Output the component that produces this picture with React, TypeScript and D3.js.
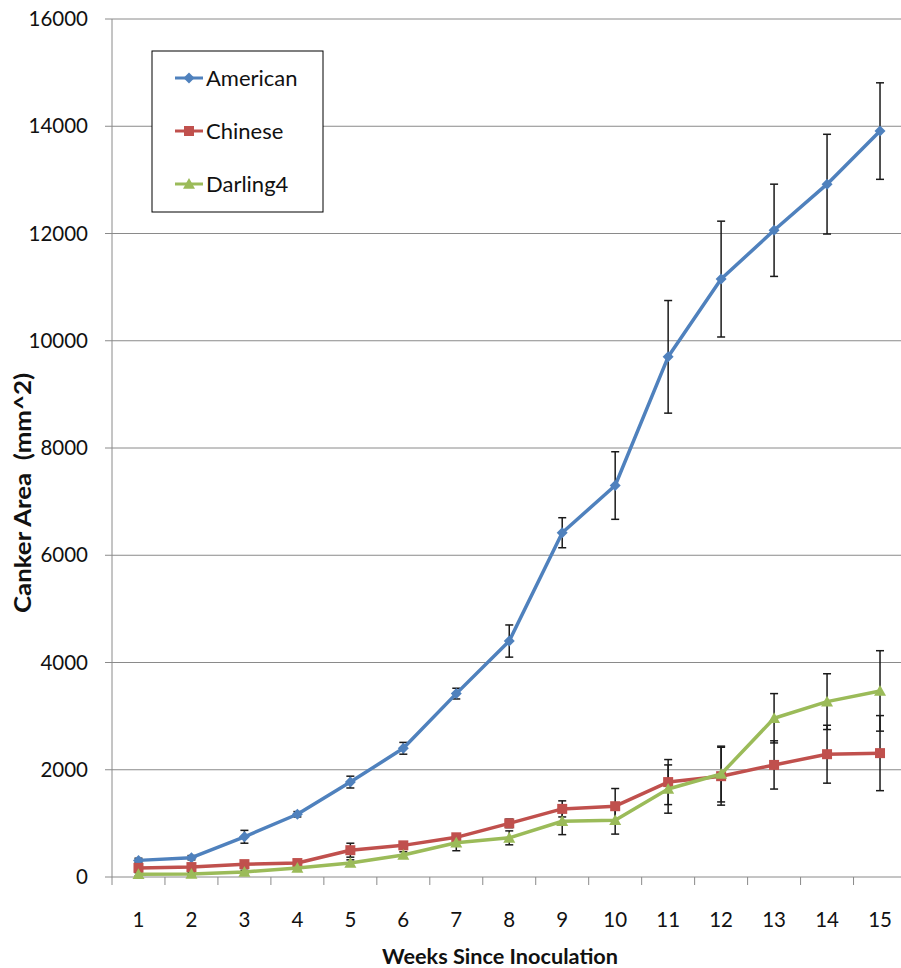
import React from "react";
import * as d3 from "d3";

const weeks = ["1", "2", "3", "4", "5", "6", "7", "8", "9", "10", "11", "12", "13", "14", "15"];
const yTicks = [0, 2000, 4000, 6000, 8000, 10000, 12000, 14000, 16000];

const americanValues = [310, 360, 750, 1170, 1770, 2400, 3420, 4400, 6420, 7300, 9700, 11150, 12060, 12920, 13910];
const americanErr = [40, 40, 120, 50, 110, 110, 100, 300, 280, 630, 1050, 1080, 860, 930, 900];

const chineseValues = [170, 185, 240, 260, 500, 590, 740, 1000, 1270, 1320, 1770, 1880, 2090, 2290, 2310];
const chineseErr = [40, 40, 40, 40, 130, 60, 60, 80, 150, 330, 420, 540, 450, 540, 700];

const darlingValues = [50, 55, 95, 170, 260, 410, 640, 730, 1040, 1060, 1640, 1920, 2960, 3270, 3470];
const darlingErr = [30, 30, 30, 40, 60, 60, 150, 130, 250, 260, 450, 520, 460, 520, 750];

const seriesNames = ["American", "Chinese", "Darling4"];

const series = [
  { name: seriesNames[0], values: americanValues, err: americanErr, color: "#4F81BD", marker: "diamond" },
  { name: seriesNames[1], values: chineseValues, err: chineseErr, color: "#C0504D", marker: "square" },
  { name: seriesNames[2], values: darlingValues, err: darlingErr, color: "#9BBB59", marker: "triangle" },
];

const W = 901;
const H = 968;
const left = 112;
const right = 906.5;
const top = 19;
const bottom = 877;
const FONT = "Lato, 'Open Sans', sans-serif";

function Marker({ type, x, y, color }: { type: string; x: number; y: number; color: string }) {
  if (type === "diamond") {
    const s = 5.5;
    return <path d={`M${x},${y - s}L${x + s},${y}L${x},${y + s}L${x - s},${y}Z`} fill={color} />;
  }
  if (type === "square") {
    const s = 5;
    return <rect x={x - s} y={y - s} width={2 * s} height={2 * s} fill={color} />;
  }
  const s = 6;
  return <path d={`M${x},${y - s}L${x + s},${y + s * 0.8}L${x - s},${y + s * 0.8}Z`} fill={color} />;
}

export default function App() {
  const x = d3.scaleBand<string>().domain(weeks).range([left, right]);
  const y = d3.scaleLinear().domain([0, 16000]).range([bottom, top]);
  const cx = (w: string) => (x(w) as number) + x.bandwidth() / 2;
  const line = d3
    .line<number>()
    .x((_, i) => cx(weeks[i]))
    .y((d) => y(d));

  const boundaries = weeks.map((w) => x(w) as number);

  return (
    <svg
      width={W}
      height={H}
      style={{ position: "absolute", left: 0, top: 0, background: "#fff" }}
      fontFamily={FONT}
    >
      <rect x={0} y={0} width={W} height={H} fill="#fff" />
      {/* gridlines */}
      {yTicks.map((t) => (
        <g key={t}>
          {t > 0 && <line x1={left} x2={W} y1={y(t)} y2={y(t)} stroke="#8a8a8a" strokeWidth={1} />}
          <line x1={left - 7} x2={left} y1={y(t)} y2={y(t)} stroke="#8a8a8a" strokeWidth={1} />
          <text x={88} y={y(t)} dy="0.35em" textAnchor="end" fontSize={20.5} fill="#111">
            {t}
          </text>
        </g>
      ))}
      {/* axes */}
      <line x1={left} x2={left} y1={top} y2={bottom} stroke="#8a8a8a" strokeWidth={1} />
      <line x1={left} x2={W} y1={bottom} y2={bottom} stroke="#8a8a8a" strokeWidth={1} />
      {boundaries.map((b, i) => (
        <line key={i} x1={b} x2={b} y1={bottom} y2={bottom + 8} stroke="#8a8a8a" strokeWidth={1} />
      ))}
      {weeks.map((w) => (
        <text key={w} x={cx(w)} y={920} dy="0.35em" textAnchor="middle" fontSize={20.5} fill="#111">
          {w}
        </text>
      ))}
      {/* error bars */}
      {series.map((s) =>
        s.values.map((v, i) => {
          const xx = cx(weeks[i]);
          const y1 = y(v + s.err[i]);
          const y2 = y(v - s.err[i]);
          return (
            <g key={s.name + i} stroke="#1a1a1a" strokeWidth={1.5}>
              <line x1={xx} x2={xx} y1={y1} y2={y2} />
              <line x1={xx - 4} x2={xx + 4} y1={y1} y2={y1} />
              <line x1={xx - 4} x2={xx + 4} y1={y2} y2={y2} />
            </g>
          );
        })
      )}
      {/* lines */}
      {series.map((s) => (
        <g key={s.name}>
          <path d={line(s.values) as string} fill="none" stroke={s.color} strokeWidth={3.5} strokeLinejoin="round" />
          {s.values.map((v, i) => (
            <Marker key={i} type={s.marker} x={cx(weeks[i])} y={y(v)} color={s.color} />
          ))}
        </g>
      ))}
      {/* legend */}
      <rect x={152} y={51} width={171} height={161} fill="#fff" stroke="#000" strokeWidth={1} />
      {series.map((s, i) => {
        const ly = 78 + i * 53;
        return (
          <g key={s.name}>
            <line x1={175} x2={203} y1={ly} y2={ly} stroke={s.color} strokeWidth={3} />
            <Marker type={s.marker} x={189} y={ly} color={s.color} />
            <text x={206} y={ly} dy="0.35em" fontSize={22} fill="#111">
              {s.name}
            </text>
          </g>
        );
      })}
      {/* axis titles */}
      <text
        x={500}
        y={956}
        dy="0.35em"
        textAnchor="middle"
        fontSize={21.5}
        fontWeight="bold"
        fill="#111"
        textLength={236}
        lengthAdjust="spacingAndGlyphs"
      >
        Weeks Since Inoculation
      </text>
      <text
        transform={`translate(23,493) rotate(-90)`}
        dy="0.35em"
        textAnchor="middle"
        fontSize={22}
        fontWeight="bold"
        fill="#111"
        textLength={240}
        lengthAdjust="spacingAndGlyphs"
        style={{ whiteSpace: "pre" }}
      >
        {"Canker Area  (mm^2)"}
      </text>
    </svg>
  );
}
